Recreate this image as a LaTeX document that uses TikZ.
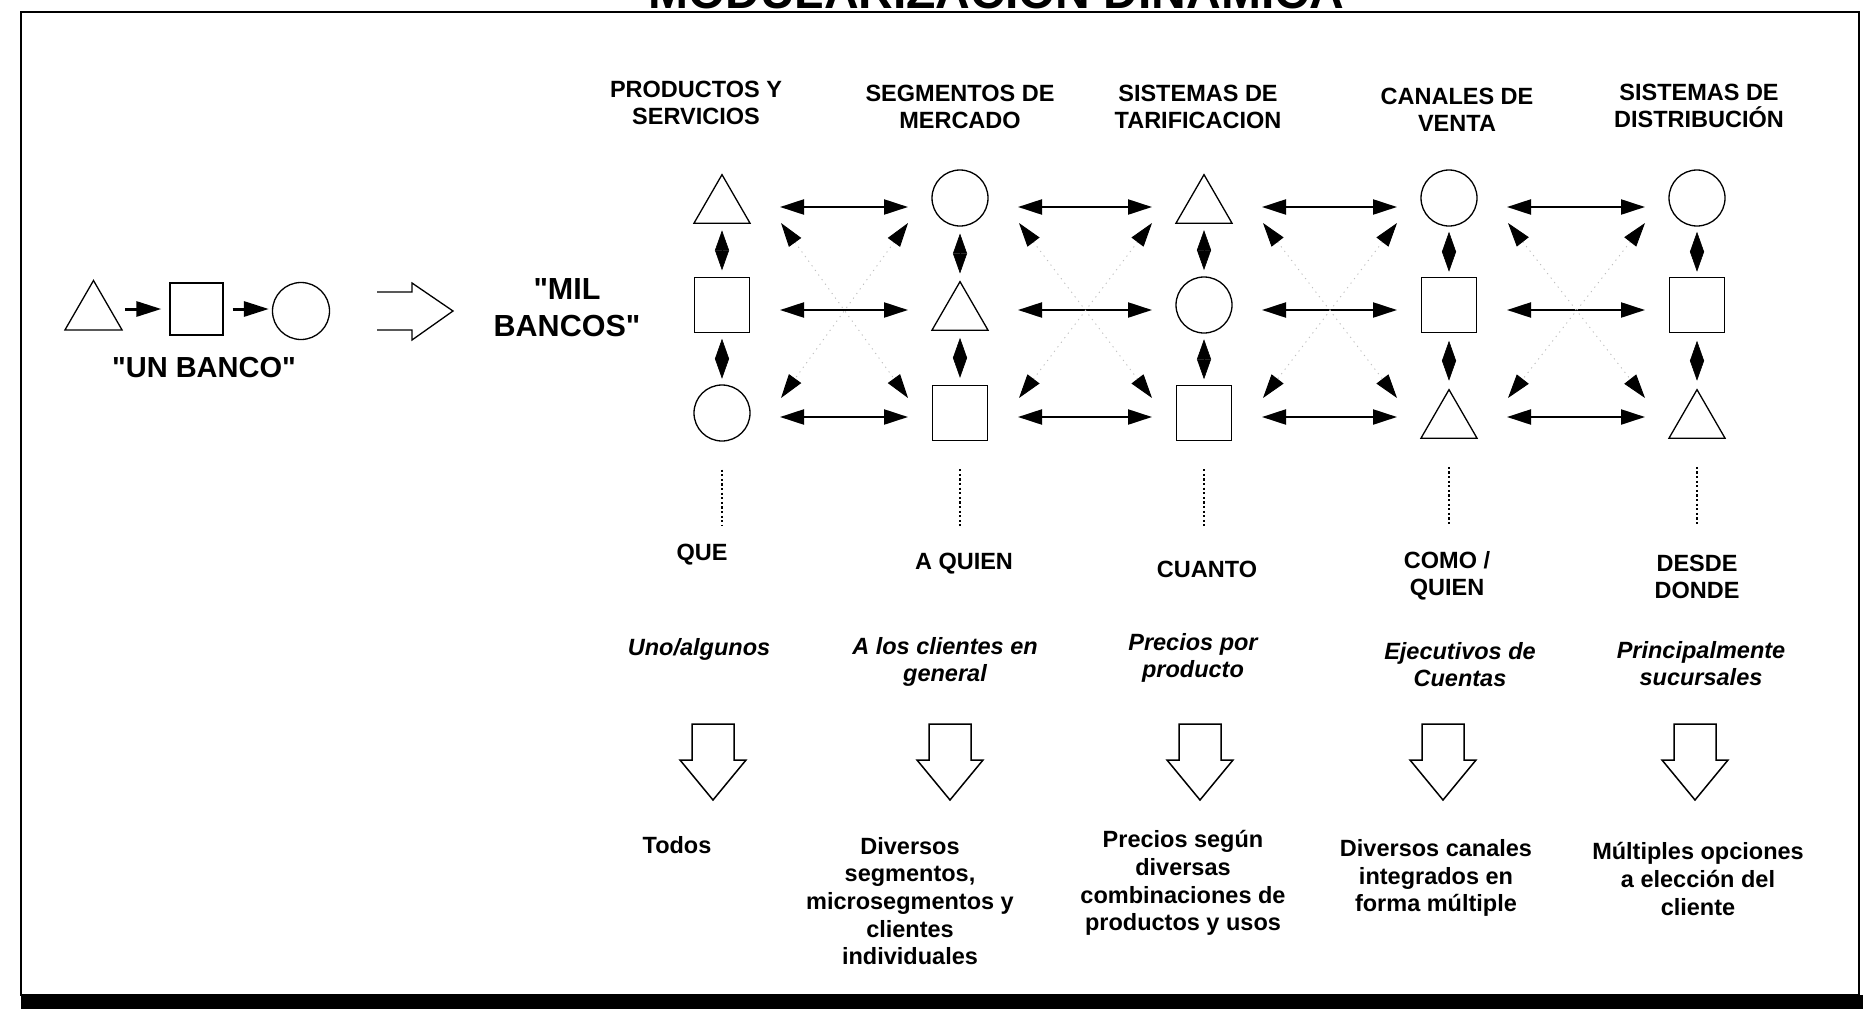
\documentclass[tikz,border=0pt]{standalone}
\usepackage{fontspec}
\setmainfont{Liberation Sans}
\usetikzlibrary{arrows.meta,shapes.geometric,calc}
\begin{document}
\begin{tikzpicture}[x=1pt,y=-1pt,
  hdr/.style={font=\bfseries\fontsize{23.5}{27}\selectfont, align=center, inner sep=0pt},
  itl/.style={font=\bfseries\itshape\fontsize{23.5}{27}\selectfont, align=center, inner sep=0pt},
  res/.style={font=\bfseries\fontsize{23.5}{27.7}\selectfont, align=center, inner sep=0pt},
  tri/.style={regular polygon, regular polygon sides=3, minimum size=64.7pt, inner sep=0pt, draw, line width=1.3pt},
  shptri/.style={tri, yshift=-9pt},
  shpcirc/.style={circle, draw, line width=1.3pt, minimum size=56pt, inner sep=0pt},
  shpsq/.style={rectangle, draw, line width=1.3pt, minimum size=55pt, inner sep=0pt},
  bigtip/.tip={Triangle[length=24pt,width=15pt]},
  harr/.style={line width=2.2pt, bigtip-bigtip, shorten <=58pt, shorten >=52pt},
  dia/.style={line width=0.6pt, {Triangle[length=20pt,width=14pt]}-{Triangle[length=20pt,width=14pt]}},
  diag/.style={line width=0.9pt, black!25, dash pattern=on 1.2pt off 4.5pt, {Triangle[length=24pt,width=15pt,color=black]}-{Triangle[length=24pt,width=15pt,color=black]}},
  dotline/.style={line width=2.2pt, dash pattern=on 2.2pt off 2.4pt, shorten <=28pt},
  uarr/.style={line width=3pt, -{Triangle[length=25pt,width=15pt]}},
  blk/.style={line width=1.5pt, line join=miter}
]
\useasboundingbox (0,0) rectangle (1863,1009);

% title (cut off at top, as in the reference)
\node[font=\bfseries\fontsize{48}{50}\selectfont, anchor=base, inner sep=0pt] (title) at (996,9) {MODULARIZACION DINAMICA};

% frame with bottom shadow
\draw[line width=2.5pt] (21,12) rectangle (1859,995);
\fill (21,995) rectangle (1863,1009);

% "UN BANCO"
\node[tri, minimum size=66pt] (u1) at (93.5,313.5) {};
\node[shpsq, minimum width=53pt, minimum height=52pt] (u2) at (196.5,309) {};
\node[shpcirc, minimum size=57pt] (u3) at (301,311) {};
\draw[uarr, shorten <=12pt, shorten >=8pt] (u1.east |- u2.west) -- (u2.west);
\draw[uarr, shorten <=9pt, shorten >=3pt] (u2.east) -- (u3.west |- u2.east);
\node[font=\bfseries\fontsize{29}{33}\selectfont, inner sep=0pt] (ubanco) at (204,368) {\textquotedbl UN BANCO\textquotedbl};

% hollow implication arrow
\draw[line width=1.3pt] (377,292) -- (412,292) -- (412,283) -- (453,311) -- (412,340) -- (412,330) -- (377,330);

\node[font=\bfseries\fontsize{30.5}{37}\selectfont, align=center, inner sep=0pt] (mil) at (567,307.5) {\textquotedbl MIL\\BANCOS\textquotedbl};

% headers
\node[hdr] (h1) at (696,102.5) {PRODUCTOS Y\\SERVICIOS};
\node[hdr] (h2) at (960,106.5) {SEGMENTOS DE\\MERCADO};
\node[hdr] (h3) at (1198,106.5) {SISTEMAS DE\\TARIFICACION};
\node[hdr] (h4) at (1457,110) {CANALES DE\\VENTA};
\node[hdr] (h5) at (1699,105.5) {SISTEMAS DE\\DISTRIBUCIÓN};

% grid of shapes
\foreach \c/\x/\ta/\tb/\tc in {1/722/tri/sq/circ, 2/960/circ/tri/sq, 3/1204/tri/circ/sq, 4/1449/circ/sq/tri, 5/1697/circ/sq/tri}{
  \node[shp\ta] (s\c-1) at (\x,198) {};
  \node[shp\tb] (s\c-2) at (\x,305) {};
  \node[shp\tc] (s\c-3) at (\x,413) {};
  \coordinate (g\c-1) at (\x,207);
  \coordinate (g\c-2) at (\x,310);
  \coordinate (g\c-3) at (\x,417);
  \coordinate (d\c) at (\x,526);
  \draw[dia] ($(s\c-1.south)!0.5!(s\c-2.north)+(0,-20)$) -- ($(s\c-1.south)!0.5!(s\c-2.north)+(0,20)$);
  \draw[dia] ($(s\c-2.south)!0.5!(s\c-3.north)+(0,-20)$) -- ($(s\c-2.south)!0.5!(s\c-3.north)+(0,20)$);
  \draw[dotline] (s\c-3) -- (d\c);
}

% connectors between columns
\foreach \c/\x/\n/\xn in {1/722/2/960, 2/960/3/1204, 3/1204/4/1449, 4/1449/5/1697}{
  \draw[harr] (g\c-1) -- (g\n-1);
  \draw[harr] (g\c-2) -- (g\n-2);
  \draw[harr] (g\c-3) -- (g\n-3);
  \coordinate (tl\c) at (\x+59,223);
  \coordinate (bl\c) at (\x+59,398);
  \coordinate (tr\c) at (\xn-52,223);
  \coordinate (br\c) at (\xn-52,398);
  \draw[diag] (tl\c) -- (br\c);
  \draw[diag] (tr\c) -- (bl\c);
}

% labels
\node[hdr] (l1) at (702,555) {QUE};
\node[hdr] (l2) at (964,564) {A QUIEN};
\node[hdr] (l3) at (1207,569) {CUANTO};
\node[hdr] (l4) at (1447,576) {COMO /\\QUIEN};
\node[hdr] (l5) at (1697,577) {DESDE\\DONDE};

% italic descriptions
\node[itl] (i1) at (699,649) {Uno/algunos};
\node[itl] (i2) at (945,662) {A los clientes en\\general};
\node[itl] (i3) at (1193,658) {Precios por\\producto};
\node[itl] (i4) at (1460,665) {Ejecutivos de\\Cuentas};
\node[itl] (i5) at (1701,664) {Principalmente\\sucursales};

% block down arrows
\foreach \x in {713,950,1200,1443,1695}{
  \draw[blk] (\x-21,724) -- (\x+21,724) -- (\x+21,760) -- (\x+33,760) -- (\x,800) -- (\x-33,760) -- (\x-21,760) -- cycle;
}

% results
\node[res] (r1) at (677,845) {Todos};
\node[res] (r2) at (910,901) {Diversos\\segmentos,\\microsegmentos y\\clientes\\individuales};
\node[res] (r3) at (1183,883) {Precios según\\diversas\\combinaciones de\\productos y usos};
\node[res] (r4) at (1436,878) {Diversos canales\\integrados en\\forma múltiple};
\node[res] (r5) at (1698,879) {Múltiples opciones\\a elección del\\cliente};
\end{tikzpicture}
\end{document}
